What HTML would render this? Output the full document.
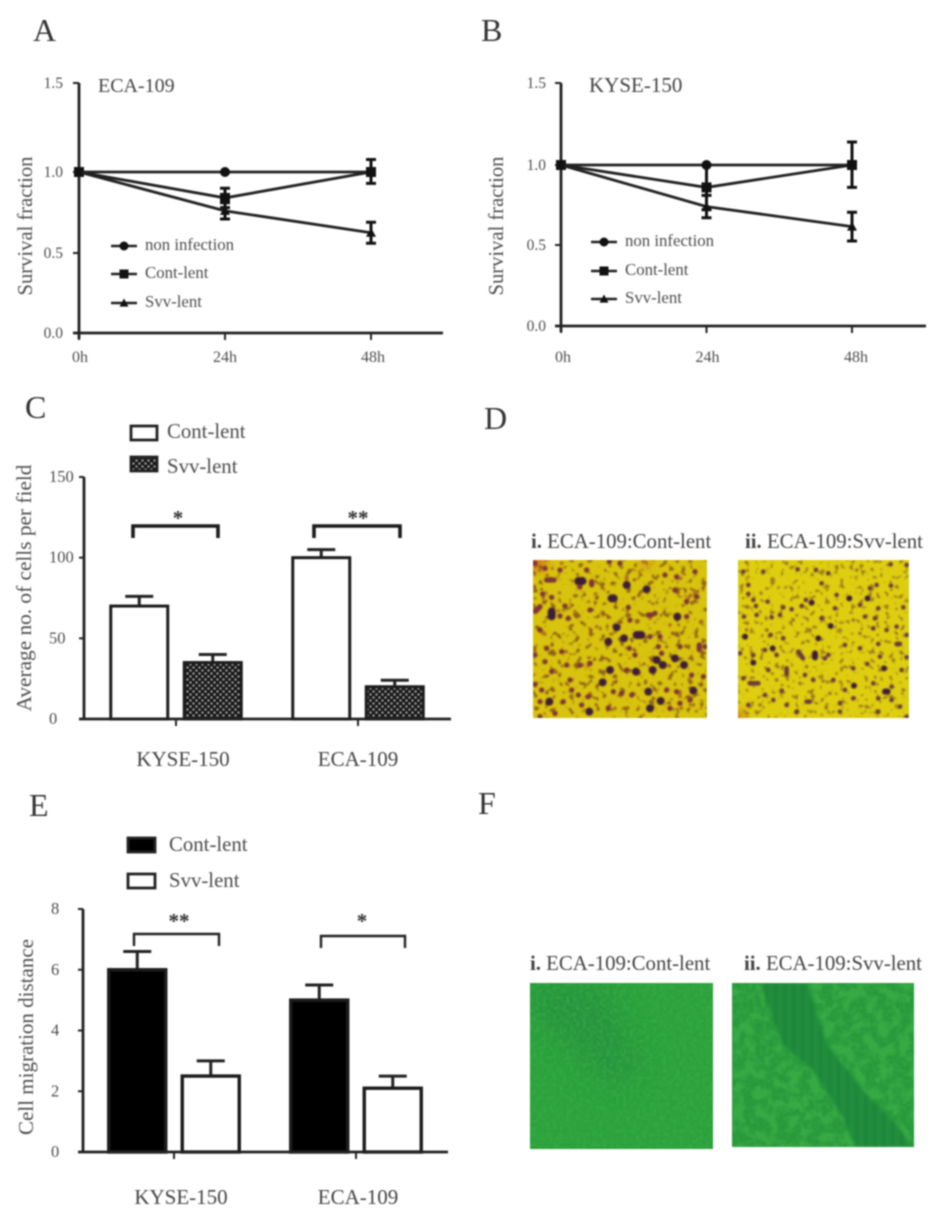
<!DOCTYPE html>
<html lang="en">
<head>
<meta charset="utf-8">
<title>Survivin lentivirus figure panels A–F</title>
<style>
html,body{margin:0;padding:0;background:#fff;width:945px;height:1219px;overflow:hidden}
#figure{display:block;filter:blur(.8px)}
text{font-family:"Liberation Serif",serif}
</style>
</head>
<body>
<svg id="figure" xmlns="http://www.w3.org/2000/svg" width="945" height="1219" viewBox="0 0 945 1219">
<defs>
<pattern id="dots-pattern" width="6" height="6" patternUnits="userSpaceOnUse">
<rect width="6" height="6" fill="#171717"/>
<circle cx="1.5" cy="1.5" r="1.25" fill="#9a9a9a"/>
<circle cx="4.5" cy="4.5" r="1.25" fill="#9a9a9a"/>
</pattern>
<pattern id="stripes" width="9" height="9" patternUnits="userSpaceOnUse">
<rect width="9" height="9" fill="#218e3d"/>
<rect width="3.5" height="9" fill="#1a8438"/>
</pattern>
<filter id="soft" x="-5%" y="-5%" width="110%" height="110%"><feGaussianBlur stdDeviation="2.6"/></filter>
<filter id="soft-edge" x="-5%" y="-5%" width="110%" height="110%"><feGaussianBlur stdDeviation="1.5"/></filter>
<filter id="corner-glow" x="-100%" y="-100%" width="300%" height="300%"><feGaussianBlur stdDeviation="5"/></filter>
<filter id="softer" x="-20%" y="-20%" width="140%" height="140%"><feGaussianBlur stdDeviation="14"/></filter>
<filter id="speckle" x="0" y="0" width="100%" height="100%" color-interpolation-filters="sRGB">
<feTurbulence type="fractalNoise" baseFrequency=".3" numOctaves="2" seed="4"/>
<feColorMatrix type="matrix" values="0 0 0 0 .23  0 0 0 0 .70  0 0 0 0 .27  3 0 0 0 -1.2"/>
<feGaussianBlur stdDeviation=".5"/>
</filter>
<filter id="clusters" x="0" y="0" width="100%" height="100%" color-interpolation-filters="sRGB">
<feTurbulence type="fractalNoise" baseFrequency=".09" numOctaves="3" seed="9"/>
<feColorMatrix type="matrix" values="0 0 0 0 .23  0 0 0 0 .68  0 0 0 0 .28  5 0 0 0 -2.2"/>
<feGaussianBlur stdDeviation=".8"/>
</filter>
<filter id="brown-specks" x="0" y="0" width="100%" height="100%" color-interpolation-filters="sRGB">
<feTurbulence type="fractalNoise" baseFrequency=".16" numOctaves="2" seed="21"/>
<feColorMatrix type="matrix" values="0 0 0 0 .48  0 0 0 0 .26  0 0 0 0 .10  9 0 0 0 -5.2"/>
<feGaussianBlur stdDeviation=".7"/>
</filter>
<filter id="brown-specks-2" x="0" y="0" width="100%" height="100%" color-interpolation-filters="sRGB">
<feTurbulence type="fractalNoise" baseFrequency=".2" numOctaves="2" seed="33"/>
<feColorMatrix type="matrix" values="0 0 0 0 .48  0 0 0 0 .32  0 0 0 0 .12  9 0 0 0 -5.4"/>
<feGaussianBlur stdDeviation=".7"/>
</filter>
<clipPath id="clip-d1"><rect x="533" y="560" width="174" height="158"/></clipPath>
<clipPath id="clip-d2"><rect x="738" y="560" width="171" height="158"/></clipPath>
<clipPath id="clip-f1"><rect x="530" y="983" width="183" height="166"/></clipPath>
<clipPath id="clip-f2"><rect x="732" y="983" width="182" height="164"/></clipPath>
</defs>

<g fill="#333" font-size="32">
<text x="33" y="41">A</text>
<text x="481" y="41">B</text>
<text x="25" y="418">C</text>
<text x="484" y="429">D</text>
<text x="29" y="816">E</text>
<text x="478" y="814">F</text>
</g>

<g id="panel-a"></g>
<g id="panel-b"></g>
<g id="panel-c"></g>
<g id="panel-e"></g>

<g fill="none" stroke="#1c1c1c" stroke-width="3.6">
<path d="M133 538V526H218V538"/>
<path d="M314 538V526H400V538"/>
</g>
<g fill="none" stroke="#222" stroke-width="2.4">
<path d="M134 946V934H219V946"/>
<path d="M321 948V936H405V948"/>
</g>
<g fill="#333" font-size="21" font-weight="bold" text-anchor="middle">
<text x="178" y="525">*</text>
<text x="358" y="525">**</text>
<text x="179" y="928">**</text>
<text x="362" y="928">*</text>
</g>

<g fill="#444" font-size="20.8">
<text x="531" y="548"><tspan font-weight="bold">i.</tspan> ECA-109:Cont-lent</text>
<text x="745" y="548"><tspan font-weight="bold">ii.</tspan> ECA-109:Svv-lent</text>
<text x="530" y="970"><tspan font-weight="bold">i.</tspan> ECA-109:Cont-lent</text>
<text x="744" y="970"><tspan font-weight="bold">ii.</tspan> ECA-109:Svv-lent</text>
</g>

<g clip-path="url(#clip-d1)">
<rect x="533" y="560" width="174" height="158" fill="#d8c30e"/>
<circle cx="537" cy="562" r="10" fill="#d2701a" opacity=".9" filter="url(#corner-glow)"/>
<circle cx="646" cy="562" r="6" fill="#d2801a" opacity=".7" filter="url(#corner-glow)"/>
<rect x="533" y="560" width="174" height="158" filter="url(#brown-specks)" opacity=".75"/>
<g transform="translate(520 520) scale(.3333)" fill="none" stroke-linecap="round" filter="url(#soft)">
<path stroke="#b0701c" stroke-width="11" d="M60 150h0M125 130h0M370 125h0M470 175h12M320 170v12M525 215v14M500 240l12-14M70 225v9M180 205h0M135 258h0M165 275h0M60 330l14 12M230 320h0M390 295h0M330 300h0M180 435h8M155 480h0M205 430v8M65 510h0M200 530h0M285 565h0M480 515v14M515 465h0M520 555h0M440 380h0M130 395h9M450 315h0"/>
<path stroke="#7e3436" stroke-width="16" d="M68 222h0M95 232h0M135 258h0M120 288h0M60 260l-14 14M60 330h0M215 185v9M180 200h0M210 270h0M145 295h0M325 262h0M385 285h9M405 280h0M500 290h0M530 230h0M500 245h0M465 210h0M435 165h0M470 170h0M525 155h0M268 125h0M75 145h0M45 130h0M80 180h22M330 300h0M390 350h0M420 350h0M538 375v14M555 380h0M345 405h0M328 385h0M80 385h0M125 395h0M45 405h0M75 425h0M140 435h0M180 435h0M210 430h0M95 455h0M150 480h0M45 493h0M65 510h0M130 545h0M155 510h0M175 525h0M205 530h0M280 515h0M305 520h0M335 525h0M440 510h0M470 515h0M515 465h0M265 565h0M105 580h0M60 545h0M185 555h0M480 380h0M415 380h0M425 400h0M320 450h0M510 540h0M550 470h0M480 550h0M450 565h0M60 590h0M300 130h0M200 150h0M120 150h0"/>
<path stroke="#3c1a38" stroke-width="24" d="M175 183h12M275 235h6M95 275v14M380 208h0M320 195h0M290 322h0M350 345h14M472 290h0M270 450h0M348 455h0M398 450h0M428 435h0M465 415h0M410 420h0M492 435h0M248 487h0M385 515h0M520 512h0M88 545h0M390 565h0M208 575h0M422 543h0M265 365h0M312 355h0"/>
</g>
</g>

<g clip-path="url(#clip-d2)">
<rect x="738" y="560" width="171" height="158" fill="#dece10"/>
<circle cx="738" cy="717" r="7" fill="#cf6a18" opacity=".9" filter="url(#corner-glow)"/>
<rect x="738" y="560" width="171" height="158" filter="url(#brown-specks-2)" opacity=".65"/>
<g transform="translate(520 520) scale(.3333)" fill="none" stroke-linecap="round" filter="url(#soft)">
<path stroke="#9c7a22" stroke-width="11" d="M760 180h0M800 130h0M950 140h0M1010 150h0M680 260h0M1050 225h0M820 300h0M910 300h0M1130 200h0M1000 300h0M870 330h0M680 330h0M740 330h0M1020 340h0M960 330h0M860 440h0M840 490h0M770 480h0M1080 450h0M1120 420h0M1150 510h0M930 520h0M880 530h0M720 555h0M1040 560h0"/>
<path stroke="#693a3a" stroke-width="14" d="M670 155h0M730 155h0M833 148h0M888 150h0M1112 133h0M1160 135h0M1113 197h0M1070 195h0M1050 205h0M685 195h0M685 222h0M700 240h0M708 258h0M743 245h0M790 262h0M815 268h0M845 258h0M858 240h0M925 160h0M905 190h0M950 225h0M1020 255h0M1075 265h0M1065 295h0M1035 290h0M1060 325h0M1100 330h0M1130 320h0M1150 262h0M1160 345h0M945 265h0M905 295h0M755 292h0M780 285h0M672 290h0M710 285h0M752 345h0M790 355h0M835 395l14 20M925 405h0M915 415h0M1075 372h0M1130 372h10M1020 385h0M975 375h0M770 405h0M735 390h0M660 400h0M700 405h0M800 445v18M745 450h0M670 475h0M690 490h25M855 465h0M1042 432h0M1080 410h0M1160 412h0M1145 450h0M1000 445h0M735 525h0M785 512h0M760 540h0M860 545h10M960 550h0M1000 535h0M975 510h0M1060 490h0M1075 535h0M1115 540h0M1115 500h0M1140 560h0M1075 575h0M1160 590h0M685 555h0M800 555h0M830 575h0M960 575h0M940 480h0M880 480h0"/>
<path stroke="#3a1a38" stroke-width="18" d="M875 248h0M1043 235h0M988 235h0M758 385h0M1095 515h8M675 350h0M700 428h0M932 318h0M895 355h0M1002 497h0M1092 445h0M885 400v12"/>
</g>
</g>

<g clip-path="url(#clip-f1)">
<rect x="530" y="983" width="183" height="166" fill="#2ca03d"/>
<path fill="#21893f" opacity=".6" filter="url(#softer)" d="M530 983H600L640 1060L620 1090L590 1065L530 1010Z"/>
<rect x="530" y="983" width="183" height="166" filter="url(#speckle)" opacity=".6"/>
</g>

<g clip-path="url(#clip-f2)">
<rect x="732" y="983" width="182" height="164" fill="#28973c"/>
<rect x="732" y="983" width="182" height="164" filter="url(#clusters)" opacity=".8"/>
<rect x="732" y="983" width="182" height="164" filter="url(#speckle)" opacity=".45"/>
<path fill="url(#stripes)" filter="url(#soft-edge)" d="M760 983H807L827 1045L867 1095L897 1125L912 1147H857L840 1112L813 1070L783 1045Z"/>
</g>

<script>
/* chart data */
const timeLabels = ['0h', '24h', '48h'];
const survivalTicks = [0, 0.5, 1, 1.5];
const survivalTickLabels = ['0.0', '0.5', '1.0', '1.5'];
const seriesNames = ['non infection', 'Cont-lent', 'Svv-lent'];

const aNonInfection = [1, 1, 1];
const aNonInfectionErr = [0, 0, 0];
const aContLent = [1, 0.84, 1];
const aContLentErr = [0, 0.06, 0.07];
const aSvvLent = [1, 0.76, 0.625];
const aSvvLentErr = [0, 0.05, 0.065];

const bNonInfection = [1, 1, 1];
const bNonInfectionErr = [0, 0, 0];
const bContLent = [1, 0.86, 1];
const bContLentErr = [0, 0.14, 0.14];
const bSvvLent = [1, 0.74, 0.615];
const bSvvLentErr = [0, 0.07, 0.09];

const barGroups = ['KYSE-150', 'ECA-109'];
const cTicks = [0, 50, 100, 150];
const cContLent = [70, 100];
const cContLentErr = [6, 5];
const cSvvLent = [35, 20];
const cSvvLentErr = [5, 4];

const eTicks = [0, 2, 4, 6, 8];
const eContLent = [6, 5];
const eContLentErr = [0.6, 0.5];
const eSvvLent = [2.5, 2.1];
const eSvvLentErr = [0.5, 0.4];

const SVG_NS = 'http://www.w3.org/2000/svg';
const AXIS = '#222';
const LABEL = '#4d4d4d';

function add(parent, tag, attrs, content) {
  const el = document.createElementNS(SVG_NS, tag);
  for (const k in attrs) el.setAttribute(k, attrs[k]);
  if (content !== undefined) el.textContent = content;
  parent.appendChild(el);
  return el;
}

/* piecewise linear axis function: the figure's top tick sits off the regular spacing */
function axisScale(domain, range) {
  return function (v) {
    let i = 0;
    while (i < domain.length - 2 && v > domain[i + 1]) i++;
    const t = (v - domain[i]) / (domain[i + 1] - domain[i]);
    return range[i] + t * (range[i + 1] - range[i]);
  };
}

function drawMarker(g, kind, x, y, size) {
  let el;
  if (kind === 0) {
    el = add(g, 'circle', { cx: x, cy: y, r: size, fill: '#111' });
  } else if (kind === 1) {
    el = add(g, 'rect', { x: x - size, y: y - size, width: size * 2, height: size * 2, fill: '#111' });
  } else {
    el = add(g, 'path', { d: 'M' + x + ' ' + (y - size) + 'L' + (x + size) + ' ' + (y + size * 0.8) + 'L' + (x - size) + ' ' + (y + size * 0.8) + 'Z', fill: '#111' });
  }
  
  
  return el;
}

function lineChart(cfg) {
  const g = document.getElementById(cfg.id);
  const y = axisScale(survivalTicks, cfg.yRange);
  const x = function (i) { return cfg.x0 + i * cfg.dx; };

  const yAxis = add(g, 'line', { x1: cfg.x0, x2: cfg.x0, y1: cfg.yRange[3], y2: cfg.yRange[0] + 6, stroke: AXIS, 'stroke-width': 2.8 });
  
  
  const xAxis = add(g, 'line', { x1: cfg.x0 - 6, x2: cfg.xEnd, y1: cfg.yRange[0], y2: cfg.yRange[0], stroke: AXIS, 'stroke-width': 2.8 });
  
  

  survivalTicks.forEach(function (v, i) {
    const tick = add(g, 'line', { x1: cfg.x0 - 6, x2: cfg.x0, y1: y(v), y2: y(v), stroke: AXIS, 'stroke-width': 2 });
    
    
    const label = add(g, 'text', { x: cfg.yLabelX, y: y(v) + 5, 'text-anchor': 'end', 'font-size': 15.5, fill: LABEL }, survivalTickLabels[i]);
    
    
  });
  timeLabels.forEach(function (t, i) {
    const tick = add(g, 'line', { x1: x(i), x2: x(i), y1: cfg.yRange[0], y2: cfg.yRange[0] + 7, stroke: AXIS, 'stroke-width': 2 });
    
    
    const label = add(g, 'text', { x: x(i) + cfg.xLabelShift[i], y: 362, 'text-anchor': 'middle', 'font-size': 16, fill: LABEL }, t);
    
    
  });

  const yTitle = add(g, 'text', { transform: 'translate(' + cfg.titleX + ' 226) rotate(-90)', 'text-anchor': 'middle', 'font-size': 20.6, fill: LABEL }, 'Survival fraction');
  
  
  const heading = add(g, 'text', { x: cfg.headingX, y: 92, 'font-size': cfg.headingSize, fill: '#444' }, cfg.heading);
  
  

  cfg.series.forEach(function (s, k) {
    const pts = s.values.map(function (v, i) { return x(i) + ',' + y(v); }).join(' ');
    const line = add(g, 'polyline', { points: pts, fill: 'none', stroke: '#222', 'stroke-width': 2.8 });
    
    
    s.values.forEach(function (v, i) {
      const e = s.errs[i];
      if (e > 0) {
        const err = add(g, 'path', {
          d: 'M' + (x(i) - 5) + ' ' + y(v + e) + 'h10M' + x(i) + ' ' + y(v + e) + 'V' + y(v - e) + 'M' + (x(i) - 5) + ' ' + y(v - e) + 'h10',
          fill: 'none', stroke: '#111', 'stroke-width': 3
        });
        
        
      }
      drawMarker(g, k, x(i), y(v), 5);
    });
  });

  seriesNames.forEach(function (name, k) {
    const ly = cfg.legendY[k];
    const keyLine = add(g, 'line', { x1: cfg.legendX, x2: cfg.legendX + 26, y1: ly, y2: ly, stroke: '#222', 'stroke-width': 2.4 });
    
    
    drawMarker(g, k, cfg.legendX + 13, ly, 4.5);
    const label = add(g, 'text', { x: cfg.legendX + 34, y: ly + 4, 'font-size': 16.8, fill: LABEL }, name);
    
    
  });
}

lineChart({
  id: 'panel-a', heading: 'ECA-109', headingX: 98, headingSize: 20, x0: 79, dx: 146, xEnd: 443,
  yRange: [333, 253, 172, 83], yLabelX: 63, titleX: 32, xLabelShift: [1, 0, 2],
  legendX: 111, legendY: [246, 274, 303],
  series: [
    { values: aNonInfection, errs: aNonInfectionErr },
    { values: aContLent, errs: aContLentErr },
    { values: aSvvLent, errs: aSvvLentErr }
  ]
});
lineChart({
  id: 'panel-b', heading: 'KYSE-150', headingX: 589, headingSize: 21, x0: 561, dx: 145.5, xEnd: 926,
  yRange: [326, 245, 165, 83], yLabelX: 546, titleX: 503, xLabelShift: [2, 1, 4],
  legendX: 591, legendY: [242, 271, 299],
  series: [
    { values: bNonInfection, errs: bNonInfectionErr },
    { values: bContLent, errs: bContLentErr },
    { values: bSvvLent, errs: bSvvLentErr }
  ]
});

function barChart(cfg) {
  const g = document.getElementById(cfg.id);
  const top = cfg.ticks[cfg.ticks.length - 1];
  const y = axisScale([0, top], [cfg.y0, cfg.yTop]);
  const center = function (i) { return cfg.c0 + i * cfg.step; };

  const yAxis = add(g, 'line', { x1: cfg.axisX, x2: cfg.axisX, y1: cfg.yTop, y2: cfg.y0, stroke: AXIS, 'stroke-width': 2.8 });
  
  

  cfg.ticks.forEach(function (v) {
    const tick = add(g, 'line', { x1: cfg.axisX - 5, x2: cfg.axisX, y1: y(v), y2: y(v), stroke: AXIS, 'stroke-width': 2 });
    
    
    const label = add(g, 'text', { x: cfg.yLabelX, y: y(v) + 5, 'font-size': 16.5, fill: LABEL }, String(v));
    
    
  });

  const yTitle = add(g, 'text', { transform: 'translate(' + cfg.titleX + ' ' + cfg.titleY + ') rotate(-90)', 'text-anchor': 'middle', 'font-size': cfg.titleSize, fill: LABEL }, cfg.title);
  
  

  barGroups.forEach(function (name, i) {
    [cfg.a, cfg.b].forEach(function (s, k) {
      const cx = center(i) + (k === 0 ? -cfg.offset : cfg.offset);
      const v = s.values[i];
      const e = s.errs[i];
      const err = add(g, 'path', {
        d: 'M' + cx + ' ' + y(v) + 'V' + y(v + e) + 'M' + (cx - 14) + ' ' + y(v + e) + 'h28',
        fill: 'none', stroke: '#222', 'stroke-width': 3
      });
      
      
      const bar = add(g, 'rect', { x: cx - cfg.barW / 2, y: y(v), width: cfg.barW, height: cfg.y0 - y(v), fill: s.fill, stroke: '#1c1c1c', 'stroke-width': cfg.barStroke });
      
      
    });
    const tick = add(g, 'line', { x1: center(i), x2: center(i), y1: cfg.y0, y2: cfg.y0 + 7, stroke: AXIS, 'stroke-width': 2 });
    
    
    const label = add(g, 'text', { x: center(i) + cfg.labelShift[i], y: cfg.labelY, 'text-anchor': 'middle', 'font-size': 21, fill: '#444' }, name);
    
    
  });

  const xAxis = add(g, 'line', { x1: cfg.axisX - 5, x2: cfg.xEnd, y1: cfg.y0, y2: cfg.y0, stroke: AXIS, 'stroke-width': 2.8 });
  
  

  [cfg.a, cfg.b].forEach(function (s, k) {
    const box = add(g, 'rect', { x: cfg.legendX, y: cfg.legendY[k], width: cfg.legendW, height: 14, fill: s.fill, stroke: '#222', 'stroke-width': 2.8 });
    
    
    const label = add(g, 'text', { x: cfg.legendTextX, y: cfg.legendTextY[k], 'font-size': 20.8, fill: LABEL }, s.name);
    
    
  });
}

barChart({
  id: 'panel-c', ticks: cTicks, y0: 719, yTop: 477, axisX: 84, xEnd: 451, yLabelX: 49,
  c0: 176, step: 182, offset: 36.75, barW: 57, barStroke: 3, labelShift: [7, 0], labelY: 766,
  title: 'Average no. of cells per field', titleX: 31, titleY: 588, titleSize: 21.3,
  legendX: 131, legendY: [426, 457], legendW: 26, legendTextX: 167, legendTextY: [438, 473],
  a: { name: 'Cont-lent', values: cContLent, errs: cContLentErr, fill: '#fff' },
  b: { name: 'Svv-lent', values: cSvvLent, errs: cSvvLentErr, fill: 'url(#dots-pattern)' }
});
barChart({
  id: 'panel-e', ticks: eTicks, y0: 1152, yTop: 909, axisX: 83, xEnd: 448, yLabelX: 51,
  c0: 174, step: 182, offset: 36.75, barW: 57, barStroke: 3.4, labelShift: [7, 2], labelY: 1204,
  title: 'Cell migration distance', titleX: 33, titleY: 1037, titleSize: 21,
  legendX: 128, legendY: [838, 874], legendW: 27, legendTextX: 169, legendTextY: [851, 887],
  a: { name: 'Cont-lent', values: eContLent, errs: eContLentErr, fill: '#000' },
  b: { name: 'Svv-lent', values: eSvvLent, errs: eSvvLentErr, fill: '#fff' }
});
</script>
</svg>
</body>
</html>
